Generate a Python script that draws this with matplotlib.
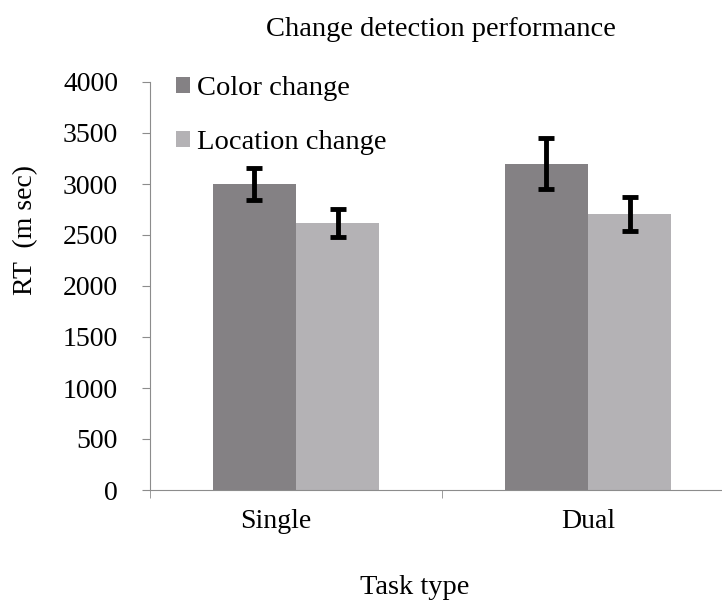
import matplotlib.pyplot as plt
import matplotlib.transforms as mtransforms
import numpy as np

plt.rcParams['font.family'] = ['Liberation Serif', 'DejaVu Serif']

categories = ['Single', 'Dual']
color_change = [3000, 3200]
color_err = [155, 250]
location_change = [2620, 2705]
location_err = [135, 165]

W, H = 722, 603
fig = plt.figure(figsize=(W / 100, H / 100), dpi=100)
# axes in pixel terms: left spine x=150, y=0 at 490, y=4000 at 82, category width ~292
ax = fig.add_axes([150 / W, 1 - 490 / H, 584 / W, 408 / H])

x = np.arange(len(categories))
w = 0.285
ax.bar(x - w / 2, color_change, w, color='#848184', label='Color change')
ax.bar(x + w / 2, location_change, w, color='#b4b2b5', label='Location change')
ax.errorbar(x - w / 2, color_change, yerr=color_err, fmt='none', ecolor='black',
            elinewidth=3.5, capsize=6, capthick=3.5)
ax.errorbar(x + w / 2, location_change, yerr=location_err, fmt='none', ecolor='black',
            elinewidth=3.5, capsize=6, capthick=3.5)

ax.set_xlim(-0.5, 1.5)
ax.set_ylim(0, 4000)
ax.set_yticks(np.arange(0, 4001, 500))
ax.set_xticks(x)
ax.set_xticklabels(categories)
ax.set_xticks([-0.5, 0.5, 1.5], minor=True)
ax.tick_params(axis='x', which='major', length=0, pad=14, labelsize=20)
ax.tick_params(axis='x', which='minor', length=6, color='#8c8c8c', direction='out')
ax.tick_params(axis='y', length=6, color='#8c8c8c', direction='out', labelsize=20, pad=17)

# the original has the "Single" label sitting a little left of its bars
lbl = ax.get_xticklabels()[0]
lbl.set_transform(lbl.get_transform() +
                  mtransforms.ScaledTranslation(-0.2, 0, fig.dpi_scale_trans))

for s in ['top', 'right']:
    ax.spines[s].set_visible(False)
for s in ['left', 'bottom']:
    ax.spines[s].set_color('#8c8c8c')

fig.text(26 / W, 1 - 230 / H, 'RT  (m sec)', rotation=90, ha='center', va='center', fontsize=20)
fig.text(415 / W, 1 - 587 / H, 'Task type', ha='center', va='center', fontsize=20.5)
fig.text(441 / W, 1 - 30 / H, 'Change detection performance', ha='center', va='center',
         fontsize=20.5)

leg = fig.legend(loc='upper left', bbox_to_anchor=(176 / W, 1 - 76 / H), frameon=False,
                 fontsize=20.5, handlelength=0.5, handleheight=0.5, handletextpad=0.25,
                 labelspacing=1.02, borderpad=0, borderaxespad=0)

fig.savefig('out.png', dpi=100)
